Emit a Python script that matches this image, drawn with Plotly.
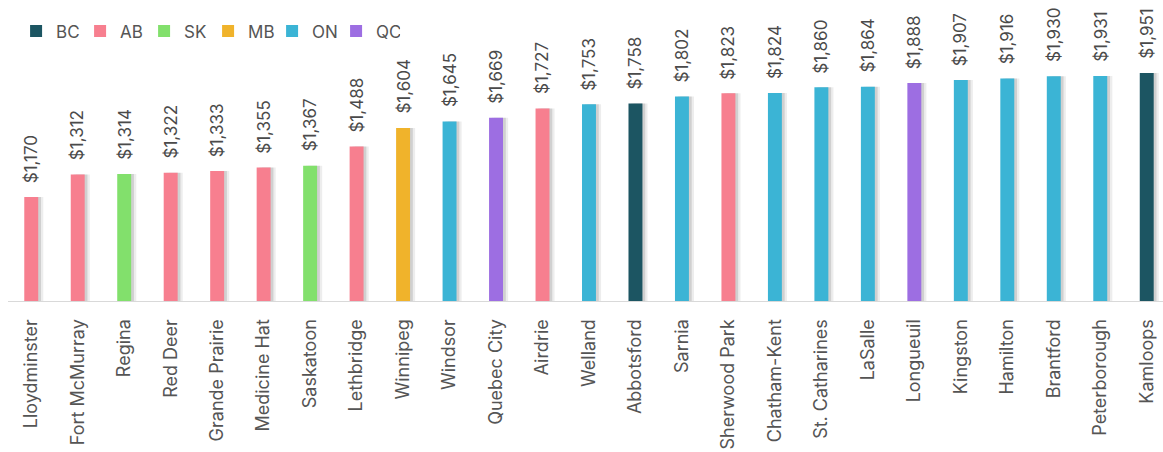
import plotly.graph_objects as go

cities = ["Lloydminster", "Fort McMurray", "Regina", "Red Deer", "Grande Prairie",
          "Medicine Hat", "Saskatoon", "Lethbridge", "Winnipeg", "Windsor",
          "Quebec City", "Airdrie", "Welland", "Abbotsford", "Sarnia",
          "Sherwood Park", "Chatham-Kent", "St. Catharines", "LaSalle", "Longueuil",
          "Kingston", "Hamilton", "Brantford", "Peterborough", "Kamloops"]
rents = [1170, 1312, 1314, 1322, 1333, 1355, 1367, 1488, 1604, 1645,
         1669, 1727, 1753, 1758, 1802, 1823, 1824, 1860, 1864, 1888,
         1907, 1916, 1930, 1931, 1951]
provinces = ["AB", "AB", "SK", "AB", "AB", "AB", "SK", "AB", "MB", "ON",
             "QC", "AB", "ON", "BC", "ON", "AB", "ON", "ON", "ON", "QC",
             "ON", "ON", "ON", "ON", "BC"]

province_order = ["BC", "AB", "SK", "MB", "ON", "QC"]
province_colors = {
    "BC": "#1c5562",
    "AB": "#f77f8f",
    "SK": "#82e06c",
    "MB": "#f0b32b",
    "ON": "#3bb4d5",
    "QC": "#9d6ee2",
}

BAR_W = 0.3
xs = list(range(len(cities)))
font_family = "Inter, 'Open Sans', sans-serif"

fig = go.Figure()

# soft shadow on the right side of each bar (two faint layers)
for shift, alpha in [(0.11, 0.07), (0.06, 0.12)]:
    fig.add_trace(go.Bar(
        x=xs, y=rents, width=BAR_W, offset=-BAR_W / 2 + shift,
        marker=dict(color=f"rgba(0,0,0,{alpha})", line=dict(width=0)),
        showlegend=False, hoverinfo="skip",
    ))

for prov in province_order:
    idx = [i for i, p in enumerate(provinces) if p == prov]
    fig.add_trace(go.Bar(
        name=prov,
        x=[xs[i] for i in idx],
        y=[rents[i] for i in idx],
        width=BAR_W, offset=-BAR_W / 2,
        marker=dict(color=province_colors[prov], line=dict(width=0)),
        hoverinfo="x+y",
    ))

# value labels above each bar
for x, v in zip(xs, rents):
    fig.add_annotation(
        x=x, y=v, text=f"${v:,}", showarrow=False,
        textangle=-90, xanchor="center", yanchor="bottom", yshift=12,
        font=dict(family=font_family, size=17, color="#4a4a4a"),
    )

fig.update_layout(
    width=1163, height=452,
    margin=dict(l=8, r=0, t=0, b=151),
    barmode="overlay",
    plot_bgcolor="white", paper_bgcolor="white",
    font=dict(family=font_family, size=14, color="#555555"),
    legend=dict(
        orientation="h", x=0.007, xanchor="left", y=0.955, yanchor="top",
        font=dict(family=font_family, size=17, color="#555555"),
        entrywidth=19, itemwidth=30, tracegroupgap=0,
        bgcolor="rgba(0,0,0,0)",
    ),
    xaxis=dict(
        tickmode="array", tickvals=xs, ticktext=cities,
        tickangle=-90, range=[-0.5, 24.35],
        showgrid=False, zeroline=False,
        showline=True, linecolor="#d9d9d9", linewidth=1,
        ticks="", ticklen=0, ticklabelstandoff=10,
        tickfont=dict(family=font_family, size=18, color="#555555"),
    ),
    yaxis=dict(
        range=[515, 2410], visible=False, showgrid=False, zeroline=False,
    ),
)

fig.write_html("out.html")
